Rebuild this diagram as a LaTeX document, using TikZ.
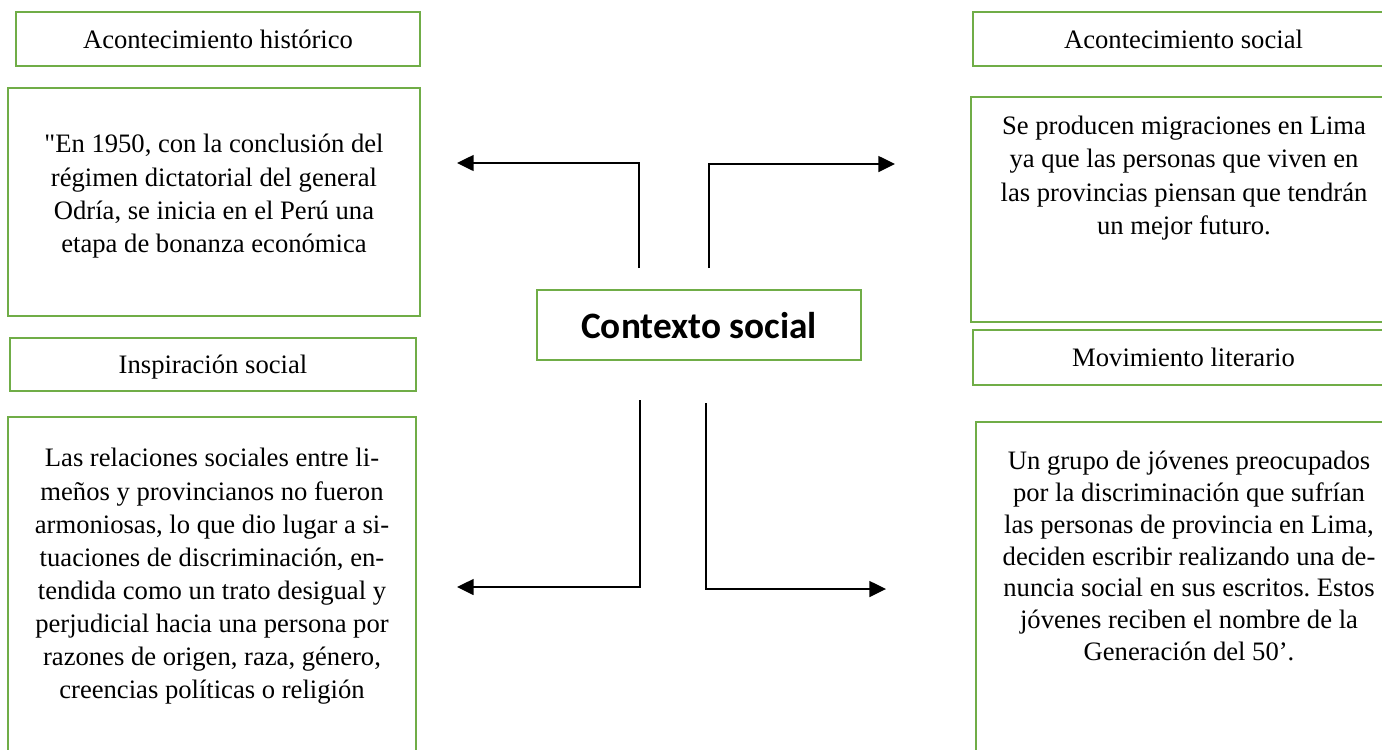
\documentclass[tikz,border=0pt]{standalone}
\usepackage{fontspec}
\setmainfont{Liberation Serif}
\newfontfamily\titulofont{Carlito}
\usetikzlibrary{arrows.meta}
\definecolor{verde}{HTML}{70AD47}
\frenchspacing

\def\h{0.01584}
\def\punto#1#2{({(#1)*\h},{(-#2)*\h})}
\def\marco#1#2#3#4#5#6{
	\node[caja, minimum width={(#4-#2)*\h cm}, minimum height={(#5-#3)*\h cm}]
		(#1) at \punto{(#2+#4)/2}{(#3+#5)/2} {#6};
}

\begin{document}
\begin{tikzpicture}[>={Triangle[length=7.5pt,width=7.2pt]},
	caja/.style={draw=verde, line width=1.1pt, inner sep=0pt, text depth=0pt,
		font=\fontsize{12}{14.9}\selectfont},
	texto/.style={align=center, inner sep=0pt, font=\fontsize{12}{14.9}\selectfont},
	flecha/.style={->, line width=0.65pt}]
	\useasboundingbox \punto{0}{0} rectangle \punto{1382}{749};
	\clip \punto{0}{0} rectangle \punto{1382}{749};

	\marco{hist}{16}{12}{420}{66}{Acontecimiento histórico}
	\marco{histcaja}{8}{88}{420}{316}{}
	\node[texto, anchor=north] (histtxt) at \punto{214}{134} {\textquotedbl En 1950, con la conclusión del\\
		régimen dictatorial del general\\
		Odría, se inicia en el Perú una\\
		etapa de bonanza económica};

	\marco{insp}{10}{338}{416}{391}{Inspiración social}
	\marco{inspcaja}{8}{417}{416}{770}{}
	\node[texto, anchor=north] (insptxt) at \punto{212}{448} {Las relaciones sociales entre li-\\
		meños y provincianos no fueron\\
		armoniosas, lo que dio lugar a si-\\
		tuaciones de discriminación, en-\\
		tendida como un trato desigual y\\
		perjudicial hacia una persona por\\
		razones de origen, raza, género,\\
		creencias políticas o religión};

	\marco{soc}{973}{12}{1394}{66}{Acontecimiento social}
	\marco{soccaja}{971}{97}{1397}{322}{}
	\node[texto, anchor=north] (soctxt) at \punto{1184}{116} {Se producen migraciones en Lima\\
		ya que las personas que viven en\\
		las provincias piensan que tendrán\\
		un mejor futuro.};

	\marco{mov}{973}{330}{1394}{385}{Movimiento literario}
	\marco{movcaja}{976}{422}{1400}{770}{}
	\node[texto, anchor=north, font=\fontsize{12}{14.3}\selectfont] (movtxt) at \punto{1189}{451} {Un grupo de jóvenes preocupados\\
		por la discriminación que sufrían\\
		las personas de provincia en Lima,\\
		deciden escribir realizando una de-\\
		nuncia social en sus escritos. Estos\\
		jóvenes reciben el nombre de la\\
		Generación del 50’.};

	\marco{ctx}{537}{290}{861}{360}{\titulofont\bfseries\fontsize{16.8}{20}\selectfont Contexto social}

	\path \punto{639}{268} coordinate (arrizqA);
	\path \punto{457}{163} coordinate (arrizqB);
	\path \punto{709}{268} coordinate (arrderA);
	\path \punto{895}{164} coordinate (arrderB);
	\path \punto{640}{400} coordinate (abaizqA);
	\path \punto{457}{587} coordinate (abaizqB);
	\path \punto{706}{403} coordinate (abaderA);
	\path \punto{886}{589} coordinate (abaderB);
	\draw[flecha] (arrizqA) |- (arrizqB);
	\draw[flecha] (arrderA) |- (arrderB);
	\draw[flecha] (abaizqA) |- (abaizqB);
	\draw[flecha] (abaderA) |- (abaderB);
\end{tikzpicture}
\end{document}
